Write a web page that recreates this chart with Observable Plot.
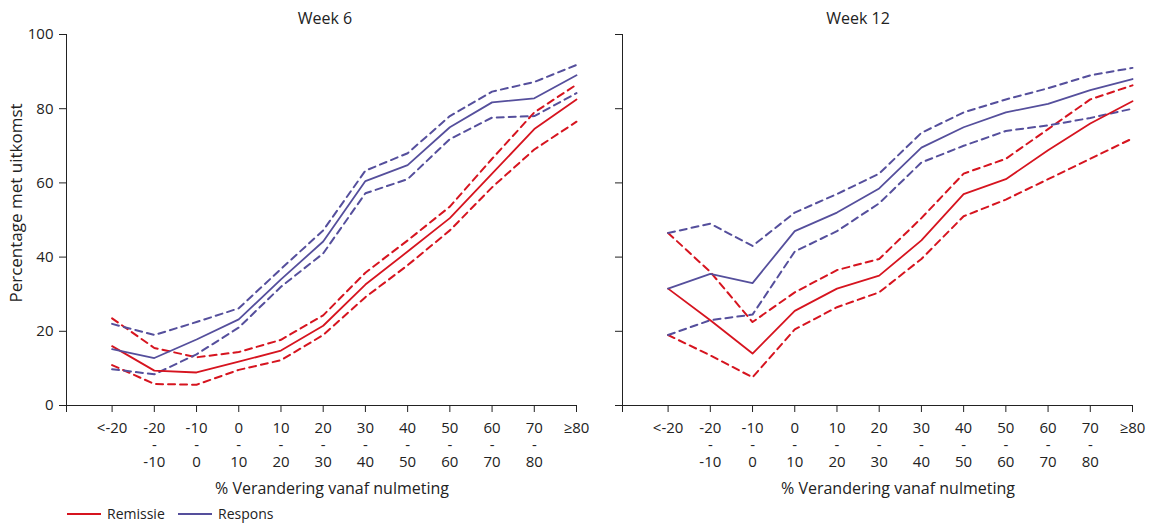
<!DOCTYPE html>
<html><head><meta charset="utf-8">
<script src="https://cdn.jsdelivr.net/npm/d3@7"></script>
<script src="https://cdn.jsdelivr.net/npm/@observablehq/plot@0.6"></script>
<style>
body{margin:0;background:#fff;font-family:"Open Sans",sans-serif;color:#222}
#wrap{position:relative;width:1153px;height:523px;overflow:hidden;background:#fff}
.abs{position:absolute;white-space:nowrap;line-height:1}
#wrap svg{position:absolute;top:0}
</style></head><body><div id="wrap"></div>
<script>
// Categories (x tick labels)
const categories = ["<-20", "-20\n-\n-10", "-10\n-\n0", "0\n-\n10", "10\n-\n20", "20\n-\n30", "30\n-\n40", "40\n-\n50", "50\n-\n60", "60\n-\n70", "70\n-\n80", "≥80"];
const yTicks = [0, 20, 40, 60, 80, 100];
const seriesNames = ["Remissie", "Respons"];
const panelTitles = ["Week 6", "Week 12"];
const xLabel = "% Verandering vanaf nulmeting";
const yLabel = "Percentage met uitkomst";

// Week 6
const remissie6   = [16.0, 9.4, 8.9, 11.8, 14.8, 21.5, 32.6, 41.5, 50.5, 62.5, 74.5, 82.5];
const remissie6Lo = [10.9, 5.8, 5.6, 9.6, 12.2, 19.0, 29.2, 37.8, 47.2, 58.8, 69.0, 76.5];
const remissie6Hi = [23.5, 15.5, 13.0, 14.4, 17.7, 24.3, 35.8, 44.5, 53.6, 66.5, 79.0, 86.5];
const respons6    = [15.2, 12.8, 17.8, 23.2, 34.0, 44.2, 60.5, 64.8, 75.0, 81.7, 82.8, 89.0];
const respons6Lo  = [9.8, 8.4, 13.8, 21.0, 32.0, 41.0, 57.2, 61.0, 71.8, 77.6, 78.0, 84.2];
const respons6Hi  = [22.0, 19.0, 22.5, 26.2, 36.8, 47.2, 63.3, 68.0, 78.0, 84.6, 87.2, 91.8];

// Week 12
const remissie12   = [31.5, 23.0, 14.0, 25.5, 31.5, 35.0, 44.5, 57.0, 61.0, 68.8, 76.0, 82.0];
const remissie12Lo = [19.0, 13.5, 7.6, 20.5, 26.5, 30.5, 39.5, 51.0, 55.5, 61.0, 66.5, 72.0];
const remissie12Hi = [46.5, 36.0, 22.5, 30.5, 36.5, 39.5, 50.5, 62.5, 66.5, 74.5, 82.5, 86.3];
const respons12    = [31.5, 35.5, 33.0, 47.0, 52.0, 58.5, 69.5, 75.0, 79.0, 81.3, 85.0, 88.0];
const respons12Lo  = [19.0, 23.0, 24.5, 41.5, 47.0, 54.5, 65.5, 70.0, 74.0, 75.5, 77.5, 80.0];
const respons12Hi  = [46.5, 49.0, 43.0, 52.0, 57.0, 62.5, 73.5, 79.0, 82.5, 85.5, 89.0, 91.0];

const RED = "#d6141f", BLUE = "#554f9c", INK = "#222";
const XMIN = -1.08;
const idx = categories.map((_, i) => i);

function rows(values, series, key) {
  return values.map((v, i) => ({i, v, series, key}));
}

function panel(rem, remLo, remHi, res, resLo, resHi, showY, width, marginLeft, marginRight) {
  const solid = [...rows(rem, "Remissie", "r"), ...rows(res, "Respons", "s")];
  const dashed = [
    ...rows(remLo, "Remissie", "rlo"), ...rows(remHi, "Remissie", "rhi"),
    ...rows(resLo, "Respons", "slo"), ...rows(resHi, "Respons", "shi")
  ];
  return Plot.plot({
    width, height: 500, marginLeft, marginRight, marginTop: 34, marginBottom: 95,
    x: {type: "linear", domain: [XMIN, categories.length - 1]},
    y: {domain: [0, 100]},
    color: {domain: seriesNames, range: [RED, BLUE]},
    style: {fontFamily: "'Open Sans', sans-serif", fontSize: "15px", color: INK, background: "transparent", overflow: "visible"},
    marks: [
      Plot.axisY({ticks: yTicks, tickSize: 7, tickPadding: 6, tickFormat: showY ? (d => String(d)) : (() => ""), label: null}),
      Plot.axisX({ticks: [XMIN, ...idx], tickSize: 7, tickPadding: 8, lineHeight: 1.15,
                  tickFormat: d => d < 0 ? "" : categories[Math.round(d)], label: null}),
      Plot.ruleY([0], {stroke: INK}),
      Plot.ruleX([XMIN], {stroke: INK}),
      Plot.line(dashed, {x: "i", y: "v", z: "key", stroke: "series", strokeWidth: 2, strokeDasharray: "7,5"}),
      Plot.line(solid, {x: "i", y: "v", z: "key", stroke: "series", strokeWidth: 1.8})
    ]
  });
}

const wrap = document.getElementById("wrap");
const left = panel(remissie6, remissie6Lo, remissie6Hi, respons6, respons6Lo, respons6Hi, true, 600, 66, 24);
left.style.left = "0px";
wrap.appendChild(left);
const right = panel(remissie12, remissie12Lo, remissie12Hi, respons12, respons12Lo, respons12Hi, false, 553, 22, 21);
right.style.left = "600px";
wrap.appendChild(right);

function addText(txt, x, y, size, extra = "") {
  const d = document.createElement("div");
  d.className = "abs";
  d.textContent = txt;
  d.style.left = x + "px";
  d.style.top = y + "px";
  d.style.fontSize = size + "px";
  d.style.transform = "translate(-50%,-50%)" + extra;
  wrap.appendChild(d);
  return d;
}
addText(panelTitles[0], 325, 18, 16);
addText(panelTitles[1], 858, 18, 16);
addText(xLabel, 332, 488, 16);
addText(xLabel, 898, 488, 16);
addText(yLabel, 15, 203, 17, " rotate(-90deg)");

// legend
const legend = [{name: seriesNames[0], color: RED, x: 67}, {name: seriesNames[1], color: BLUE, x: 178}];
for (const l of legend) {
  const sw = document.createElement("div");
  sw.className = "abs";
  sw.style.left = l.x + "px"; sw.style.top = "513px";
  sw.style.width = "34px"; sw.style.height = "2px"; sw.style.background = l.color;
  wrap.appendChild(sw);
  const t = document.createElement("div");
  t.className = "abs";
  t.textContent = l.name;
  t.style.left = (l.x + 40) + "px"; t.style.top = "514px";
  t.style.fontSize = "14px";
  t.style.transform = "translate(0,-50%)";
  wrap.appendChild(t);
}
</script></body></html>
